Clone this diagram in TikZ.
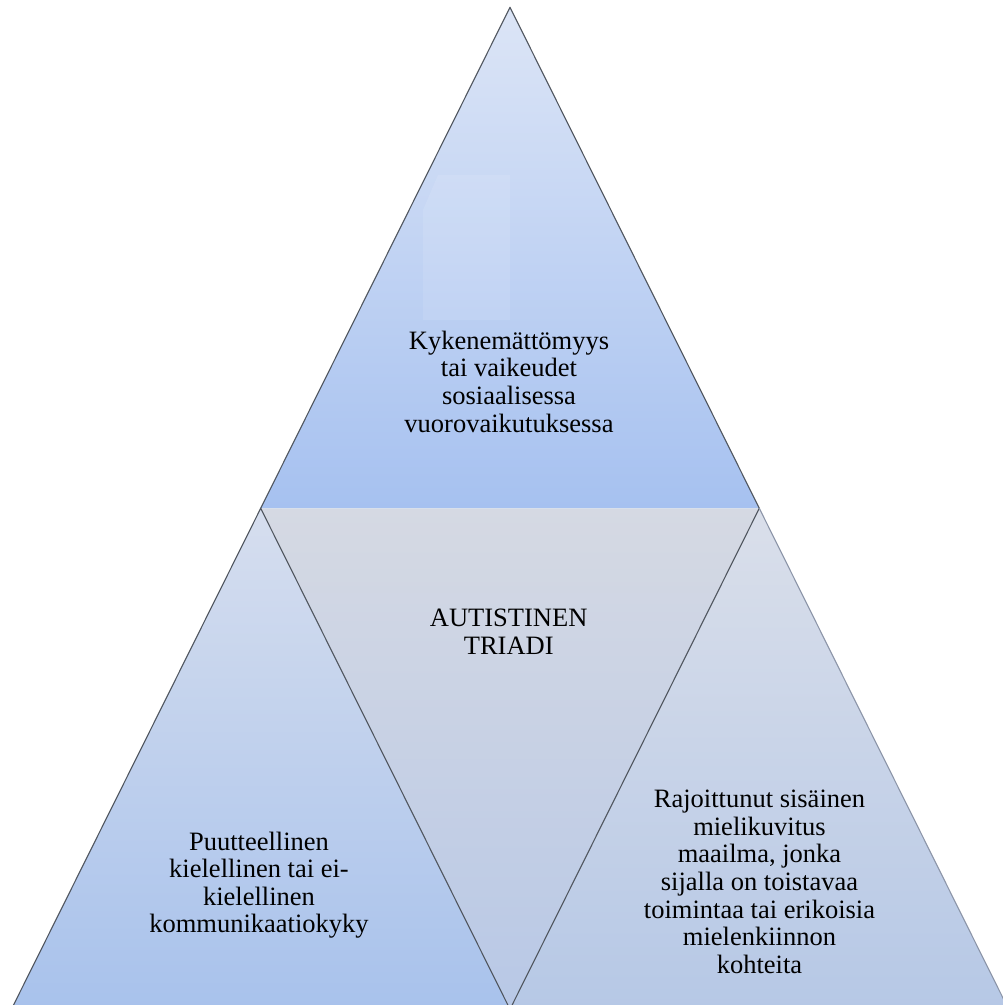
\documentclass[tikz,border=0pt]{standalone}
\usepackage{fontspec}
\setmainfont{Liberation Serif}
\definecolor{topHi}{HTML}{DCE5F6}
\definecolor{topLo}{HTML}{A6C1F0}
\definecolor{midHi}{HTML}{D5D9E3}
\definecolor{midLo}{HTML}{B8C8E6}
\definecolor{leftHi}{HTML}{D6DEEE}
\definecolor{leftLo}{HTML}{A8C2EC}
\definecolor{rightHi}{HTML}{DADFEA}
\definecolor{rightLo}{HTML}{B6C8E6}
\definecolor{rimgray}{HTML}{50565F}
\definecolor{rimlight}{HTML}{8C95A8}
\begin{document}
\begin{tikzpicture}[x=1pt,y=1pt,
    rim/.style={draw=rimgray,line width=1.1pt,line join=round},
    tritext/.style={align=center,inner sep=0pt,font=\fontsize{26.5}{27.6}\selectfont}]
  \useasboundingbox (0,0) rectangle (1003,1005);
  \clip (0,0) rectangle (1003,1005);
  % corners of the big triangle
  \coordinate (apex) at (510,997.7);
  \coordinate (ml) at (260.7,496.7);
  \coordinate (mr) at (759.3,496.7);
  \coordinate (bl) at (11.4,-4.3);
  \coordinate (bm) at (510,-4.3);
  \coordinate (br) at (1008.6,-4.3);
  % four parts
  \shade[top color=topHi,bottom color=topLo] (apex) -- (mr) -- (ml) -- cycle;
  \shade[top color=midHi,bottom color=midLo] (ml) -- (mr) -- (bm) -- cycle;
  \shade[top color=leftHi,bottom color=leftLo] (ml) -- (bm) -- (bl) -- cycle;
  \shade[top color=rightHi,bottom color=rightLo] (mr) -- (br) -- (bm) -- cycle;
  % glare in the top part
  \fill[white,opacity=0.1] (438,830) -- (510,830) -- (510,685) -- (423,685) -- (423,795) -- cycle;
  % outlines
  \draw[rim] (ml) -- (apex) -- (mr);
  \draw[rim] (bl) -- (ml) -- (bm) -- (mr);
  \draw[rim,draw=rimlight] (mr) -- (br);
  % texts
  \node[tritext] (social) at (509,623.4)
    {Kykenemättömyys\\tai vaikeudet\\sosiaalisessa\\vuorovaikutuksessa};
  \node[tritext] (triad) at (508.7,373.1) {AUTISTINEN\\TRIADI};
  \node[tritext] (speech) at (259,119.8)
    {Puutteellinen\\kielellinen tai ei-\\kielellinen\\kommunikaatiokyky};
  \node[tritext] (imagin) at (759.5,123.1)
    {Rajoittunut sisäinen\\mielikuvitus\\maailma, jonka\\sijalla on toistavaa\\toimintaa tai erikoisia\\mielenkiinnon\\kohteita};
\end{tikzpicture}
\end{document}
